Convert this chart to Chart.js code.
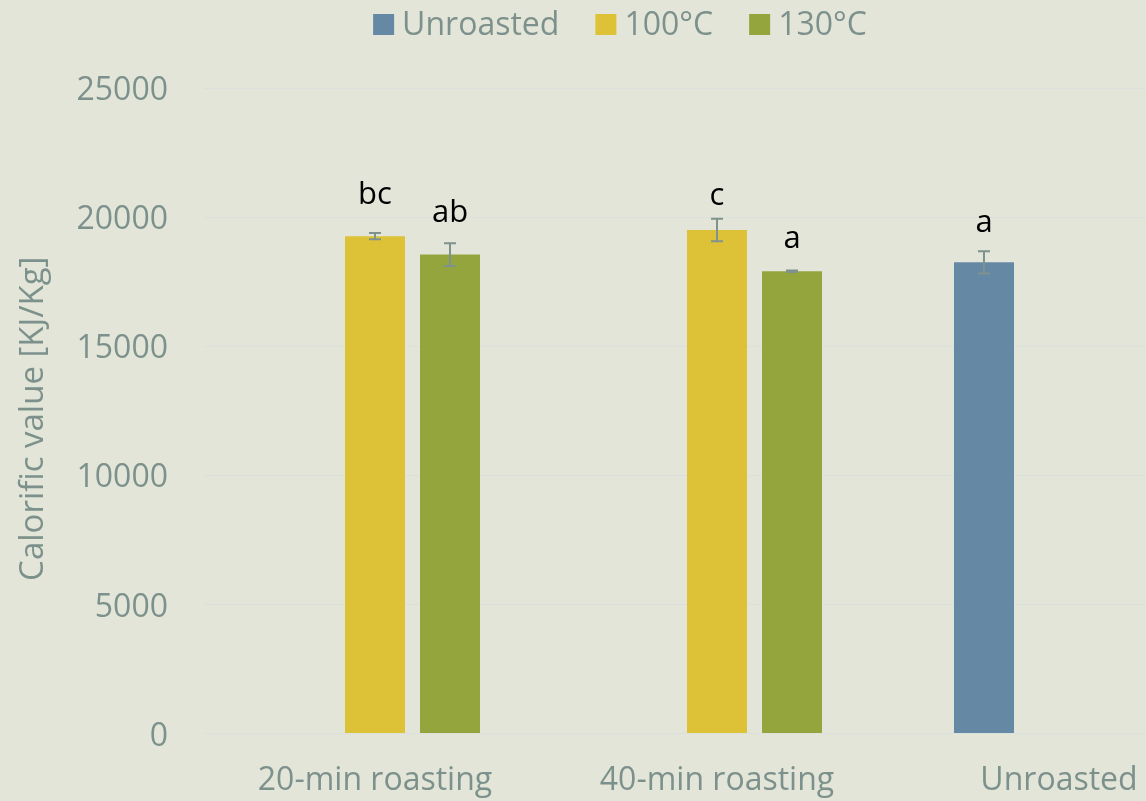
<!DOCTYPE html>
<html>
<head>
<meta charset="utf-8">
<script src="https://cdn.jsdelivr.net/npm/chart.js@4.4.1/dist/chart.umd.min.js"></script>
<style>
  html, body { margin: 0; padding: 0; background: #e3e5d9; overflow: hidden; width: 1146px; height: 801px; }
  #wrap { position: absolute; left: 0; top: 0; width: 1240px; height: 801px; }
</style>
</head>
<body>
<div id="wrap"><canvas id="c" width="1240" height="801"></canvas></div>
<script>
// Calorific value of samples by roasting time and temperature
const categories = ['20-min roasting', '40-min roasting', 'Unroasted'];
const seriesNames = ['Unroasted', '100°C', '130°C'];

const unroastedValues = [null, null, 18250];
const c100Values = [19260, 19500, null];
const c130Values = [18550, 17900, null];

// standard deviations
const unroastedErrors = [null, null, 430];
const c100Errors = [120, 440, null];
const c130Errors = [440, 30, null];

// significance letters
const unroastedLetters = [null, null, 'a'];
const c100Letters = ['bc', 'c', null];
const c130Letters = ['ab', 'a', null];

const yTicks = [0, 5000, 10000, 15000, 20000, 25000];
const yTitle = 'Calorific value [KJ/Kg]';

const TEXT_GREY = '#7d918c';
const FONT = '"Open Sans", "DejaVu Sans", sans-serif';

const errorBarPlugin = {
  id: 'errorBars',
  afterDatasetsDraw(chart, args, opts) {
    const ctx = chart.ctx;
    const y = chart.scales.y;
    ctx.save();
    ctx.strokeStyle = opts.color;
    ctx.lineWidth = opts.lineWidth;
    chart.data.datasets.forEach((ds, di) => {
      const meta = chart.getDatasetMeta(di);
      ds.data.forEach((v, i) => {
        const e = ds.errors[i];
        if (v == null || e == null) return;
        const x = meta.data[i].x;
        const top = y.getPixelForValue(v + e);
        const bot = y.getPixelForValue(v - e);
        const h = opts.capWidth / 2;
        ctx.beginPath();
        ctx.moveTo(x, top); ctx.lineTo(x, bot);
        ctx.moveTo(x - h, top); ctx.lineTo(x + h, top);
        ctx.moveTo(x - h, bot); ctx.lineTo(x + h, bot);
        ctx.stroke();
      });
    });
    ctx.restore();
  }
};

const letterPlugin = {
  id: 'letters',
  afterDatasetsDraw(chart, args, opts) {
    const ctx = chart.ctx;
    const y = chart.scales.y;
    ctx.save();
    ctx.fillStyle = opts.color;
    ctx.font = opts.font;
    ctx.textAlign = 'center';
    ctx.textBaseline = 'alphabetic';
    chart.data.datasets.forEach((ds, di) => {
      const meta = chart.getDatasetMeta(di);
      ds.data.forEach((v, i) => {
        const t = ds.letters[i];
        if (v == null || !t) return;
        const x = meta.data[i].x;
        const top = y.getPixelForValue(v + (ds.errors[i] || 0));
        ctx.fillText(t, x, top - opts.gaps[di][i]);
      });
    });
    ctx.restore();
  }
};

// vertical axis title, drawn a little below the plot's middle
const axisTitlePlugin = {
  id: 'axisTitle',
  afterDraw(chart, args, opts) {
    const ctx = chart.ctx;
    const area = chart.chartArea;
    ctx.save();
    ctx.translate(opts.x, (area.top + area.bottom) / 2 + opts.shift);
    ctx.rotate(-Math.PI / 2);
    ctx.font = opts.font;
    ctx.fillStyle = opts.color;
    ctx.textAlign = 'center';
    ctx.textBaseline = 'middle';
    ctx.fillText(opts.text, 0, 0);
    ctx.restore();
  }
};

const legendPlugin = {
  id: 'topLegend',
  afterDraw(chart, args, opts) {
    const ctx = chart.ctx;
    ctx.save();
    ctx.font = opts.font;
    ctx.textBaseline = 'alphabetic';
    ctx.textAlign = 'left';
    const items = chart.data.datasets.map(d => ({
      label: d.label, color: d.backgroundColor, w: ctx.measureText(d.label).width
    }));
    const box = opts.boxSize, gap = opts.textGap, spacing = opts.itemSpacing;
    const total = items.reduce((s, it) => s + box + gap + it.w, 0) + spacing * (items.length - 1);
    let x = (chart.width - total) / 2;
    items.forEach(it => {
      ctx.fillStyle = it.color;
      ctx.fillRect(x, opts.boxTop, box, box);
      ctx.fillStyle = opts.color;
      ctx.fillText(it.label, x + box + gap, opts.baseline);
      x += box + gap + it.w + spacing;
    });
    ctx.restore();
  }
};

new Chart(document.getElementById('c'), {
  type: 'bar',
  data: {
    labels: categories,
    datasets: [
      { label: seriesNames[0], data: unroastedValues, errors: unroastedErrors, letters: unroastedLetters, backgroundColor: '#6588a5' },
      { label: seriesNames[1], data: c100Values, errors: c100Errors, letters: c100Letters, backgroundColor: '#ddc237' },
      { label: seriesNames[2], data: c130Values, errors: c130Errors, letters: c130Letters, backgroundColor: '#94a53e' }
    ]
  },
  options: {
    responsive: false,
    animation: false,
    devicePixelRatio: 1,
    categoryPercentage: 0.658,
    barPercentage: 0.8,
    layout: { padding: { top: 88, right: 10, bottom: 0, left: 0 } },
    plugins: {
      legend: { display: false },
      tooltip: { enabled: false },
      errorBars: { color: '#7f928d', lineWidth: 2, capWidth: 12 },
      letters: {
        color: '#000000',
        font: '31px ' + FONT,
        gaps: [[null, null, 19], [29, 14, null], [21, 23, null]]
      },
      axisTitle: { text: yTitle, font: '33px ' + FONT, color: TEXT_GREY, x: 34, shift: 8 },
      topLegend: {
        font: '32px ' + FONT, color: TEXT_GREY,
        boxSize: 21, textGap: 8, itemSpacing: 36, boxTop: 14, baseline: 35
      }
    },
    scales: {
      x: {
        grid: { display: false, drawTicks: false },
        border: { display: false },
        ticks: { color: TEXT_GREY, font: { family: FONT, size: 32 }, padding: 28, maxRotation: 0, autoSkip: false },
        afterFit(s) { s.height = 67.5; }
      },
      y: {
        min: 0, max: 25000,
        afterBuildTicks(s) { s.ticks = yTicks.map(v => ({ value: v })); },
        grid: { color: '#dbe0dd', lineWidth: 1, drawTicks: false },
        border: { display: false },
        ticks: { color: TEXT_GREY, font: { family: FONT, size: 32 }, padding: 36, labelOffset: 3, callback: v => String(v) },
        afterFit(s) { s.width = 204; }
      }
    }
  },
  plugins: [errorBarPlugin, letterPlugin, axisTitlePlugin, legendPlugin]
});
</script>
</body>
</html>
